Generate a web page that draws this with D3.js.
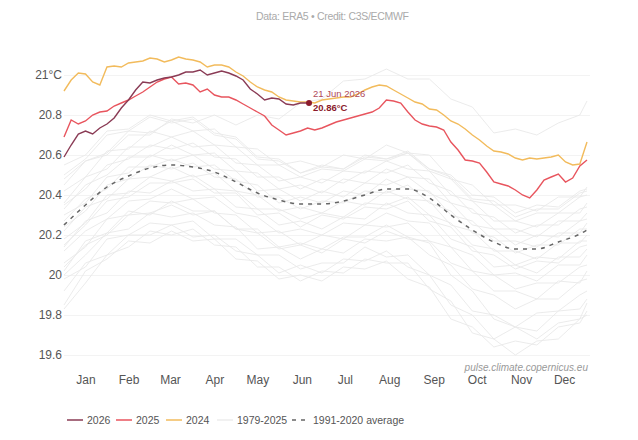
<!doctype html>
<html>
<head>
<meta charset="utf-8">
<script src="https://d3js.org/d3.v7.min.js"></script>
<style>
  body { margin: 0; background: #fff; }
  text { font-family: "Liberation Sans", Arial, sans-serif; }
</style>
</head>
<body>
<div id="chart"></div>
<script>
// month labels sit mid-month (day of year)
var months = ["Jan","Feb","Mar","Apr","May","Jun","Jul","Aug","Sep","Oct","Nov","Dec"];
var monthMid = [15, 45, 74, 105, 135, 166, 196, 227, 258, 288, 319, 349];
var yTicks = [19.6, 19.8, 20, 20.2, 20.4, 20.6, 20.8, 21];

var sampleDays = d3.range(0, 366, 5);
var val2024 = [20.92,20.975,21.01,21.005,20.965,20.95,21.04,21.045,21.04,21.06,21.065,21.07,21.085,21.08,21.065,21.075,21.09,21.08,21.075,21.065,
  21.04,21.05,21.05,21.04,21.015,20.995,20.965,20.94,20.925,20.915,20.89,20.875,20.87,20.865,20.865,20.86,20.875,20.88,20.885,20.89,
  20.89,20.905,20.925,20.94,20.95,20.945,20.925,20.905,20.885,20.865,20.855,20.83,20.825,20.80,20.77,20.755,20.73,20.70,20.675,20.645,
  20.62,20.615,20.605,20.585,20.575,20.585,20.58,20.585,20.59,20.60,20.565,20.55,20.555,20.665];
var val2025 = [20.69,20.775,20.755,20.77,20.80,20.815,20.82,20.845,20.86,20.875,20.895,20.915,20.94,20.965,20.98,20.99,20.955,20.96,20.95,20.915,
  20.93,20.90,20.89,20.89,20.875,20.855,20.835,20.815,20.795,20.75,20.725,20.70,20.71,20.72,20.735,20.725,20.735,20.75,20.765,20.775,
  20.785,20.795,20.805,20.815,20.835,20.875,20.87,20.86,20.815,20.775,20.755,20.745,20.74,20.725,20.665,20.625,20.575,20.57,20.56,20.515,
  20.465,20.455,20.445,20.425,20.40,20.385,20.425,20.475,20.49,20.505,20.465,20.485,20.545,20.575];
var val2026 = [20.59,20.65,20.705,20.72,20.705,20.735,20.755,20.785,20.835,20.875,20.925,20.965,20.96,20.975,20.985,20.99,21.00,21.015,21.015,21.025,
  21.00,21.01,21.02,21.01,20.995,20.975,20.93,20.905,20.875,20.885,20.88,20.855,20.85,20.86,20.86];
var lastDay = 171, lastValue = 20.86, lastLabel = "21 Jun 2026";

// 1991-2020 average and 1979-2025 years, every 15 days
var greyDays = d3.range(0, 361, 15).concat([365]);
var avg = [20.25,20.35,20.44,20.495,20.535,20.55,20.54,20.515,20.465,20.41,20.375,20.355,20.355,20.37,20.40,20.43,20.43,20.385,20.30,20.225,20.165,20.13,20.13,20.165,20.205,20.225];
var greyYears = [
  [19.85,20.02,20.08,20.17,20.16,20.22,20.17,20.18,20.08,20.07,19.98,20.00,19.97,20.04,20.03,20.07,19.98,19.94,19.78,19.74,19.64,19.67,19.65,19.74,19.76,19.82],
  [19.83,19.96,20.10,20.14,20.22,20.20,20.23,20.15,20.14,20.04,20.04,19.97,20.02,20.01,20.08,20.06,20.06,19.93,19.87,19.71,19.68,19.60,19.67,19.68,19.78,19.80],
  [19.92,20.06,20.10,20.20,20.20,20.25,20.19,20.20,20.12,20.10,20.01,20.05,20.01,20.08,20.07,20.12,20.04,20.00,19.85,19.80,19.68,19.74,19.72,19.82,19.83,19.88],
  [19.98,20.04,20.18,20.20,20.26,20.25,20.27,20.18,20.18,20.10,20.10,20.03,20.06,20.06,20.14,20.09,20.10,20.00,19.95,19.82,19.80,19.74,19.81,19.82,19.90,19.92],
  [20.02,20.17,20.21,20.32,20.30,20.37,20.32,20.32,20.23,20.23,20.14,20.16,20.13,20.19,20.19,20.25,20.19,20.16,20.00,19.92,19.78,19.74,19.68,19.76,19.78,19.86],
  [20.00,20.10,20.21,20.23,20.31,20.29,20.31,20.25,20.24,20.13,20.14,20.08,20.13,20.11,20.18,20.17,20.19,20.10,20.05,19.93,19.90,19.83,19.88,19.88,19.97,19.98],
  [20.04,20.15,20.20,20.30,20.31,20.35,20.30,20.32,20.23,20.21,20.13,20.15,20.11,20.18,20.16,20.22,20.18,20.17,20.06,20.02,19.92,19.92,19.88,19.97,19.96,20.02],
  [20.06,20.14,20.28,20.30,20.37,20.36,20.38,20.31,20.30,20.21,20.22,20.15,20.20,20.18,20.25,20.24,20.26,20.17,20.14,20.02,20.00,19.93,19.96,19.96,20.04,20.05],
  [20.12,20.22,20.28,20.37,20.38,20.43,20.38,20.39,20.31,20.29,20.21,20.23,20.20,20.26,20.25,20.31,20.27,20.26,20.14,20.10,20.00,20.01,19.97,20.05,20.05,20.10],
  [20.15,20.25,20.37,20.39,20.46,20.46,20.48,20.41,20.41,20.30,20.31,20.24,20.30,20.28,20.34,20.33,20.37,20.27,20.24,20.12,20.10,20.03,20.07,20.06,20.14,20.15],
  [20.14,20.27,20.31,20.42,20.41,20.47,20.42,20.43,20.34,20.33,20.25,20.27,20.23,20.29,20.28,20.36,20.31,20.30,20.18,20.14,20.04,20.05,20.01,20.09,20.09,20.13],
  [20.18,20.26,20.40,20.41,20.49,20.47,20.50,20.43,20.42,20.33,20.33,20.28,20.31,20.29,20.36,20.35,20.39,20.30,20.26,20.15,20.13,20.05,20.09,20.08,20.17,20.17],
  [20.22,20.34,20.38,20.48,20.49,20.54,20.49,20.51,20.42,20.40,20.32,20.34,20.31,20.37,20.35,20.42,20.38,20.37,20.25,20.22,20.12,20.12,20.08,20.16,20.16,20.20],
  [20.24,20.32,20.45,20.48,20.55,20.53,20.56,20.49,20.48,20.39,20.39,20.33,20.37,20.36,20.42,20.41,20.45,20.36,20.32,20.21,20.19,20.11,20.15,20.15,20.23,20.23],
  [20.27,20.38,20.43,20.54,20.54,20.58,20.54,20.55,20.47,20.45,20.36,20.39,20.36,20.42,20.40,20.48,20.43,20.42,20.30,20.27,20.17,20.17,20.14,20.21,20.21,20.26],
  [20.30,20.36,20.49,20.51,20.60,20.57,20.60,20.53,20.52,20.42,20.43,20.37,20.42,20.39,20.46,20.45,20.49,20.41,20.36,20.25,20.23,20.15,20.20,20.19,20.27,20.28],
  [20.33,20.45,20.50,20.59,20.59,20.65,20.60,20.61,20.52,20.51,20.43,20.45,20.41,20.48,20.46,20.53,20.49,20.48,20.36,20.33,20.23,20.23,20.19,20.27,20.27,20.31],
  [20.35,20.43,20.55,20.58,20.65,20.63,20.66,20.59,20.58,20.49,20.49,20.43,20.48,20.46,20.52,20.51,20.55,20.46,20.42,20.31,20.29,20.21,20.25,20.25,20.33,20.34],
  [20.36,20.49,20.53,20.64,20.64,20.69,20.64,20.65,20.56,20.55,20.47,20.49,20.46,20.52,20.51,20.57,20.53,20.52,20.40,20.37,20.27,20.27,20.24,20.31,20.31,20.36],
  [20.42,20.49,20.62,20.63,20.72,20.69,20.72,20.65,20.64,20.55,20.55,20.49,20.53,20.52,20.58,20.57,20.61,20.52,20.48,20.37,20.35,20.27,20.31,20.31,20.39,20.40],
  [20.45,20.57,20.61,20.72,20.71,20.77,20.72,20.73,20.64,20.63,20.55,20.57,20.54,20.60,20.58,20.65,20.61,20.60,20.48,20.45,20.35,20.35,20.32,20.39,20.39,20.44],
  [20.50,20.58,20.70,20.72,20.79,20.76,20.78,20.70,20.68,20.58,20.57,20.51,20.55,20.53,20.60,20.58,20.62,20.53,20.50,20.40,20.39,20.31,20.35,20.34,20.42,20.43],
  [20.55,20.60,20.72,20.73,20.80,20.77,20.79,20.71,20.69,20.59,20.58,20.51,20.54,20.53,20.59,20.58,20.61,20.53,20.49,20.38,20.37,20.29,20.33,20.33,20.41,20.42],
  [20.48,20.57,20.60,20.70,20.70,20.78,20.76,20.80,20.75,20.80,20.78,20.86,20.88,20.97,20.98,21.03,20.98,20.98,20.88,20.84,20.71,20.73,20.70,20.76,20.80,20.87]
];

var colors = {y2026: "#8a3b55", y2025: "#e8555e", y2024: "#f2bb5c", grey: "#e9e9e9", avg: "#666"};

var width = 638, height = 440;
var svg = d3.select("#chart").append("svg")
    .attr("width", width)
    .attr("height", height);

var x = d3.scaleLinear().domain([0, 365]).range([64, 587]);
var y = d3.scaleLinear().domain([19.6, 21]).range([355, 75]);

// title
svg.append("text")
    .attr("x", 256).attr("y", 20)
    .attr("font-size", 10.5)
    .attr("fill", "#aaa")
    .attr("textLength", 153)
    .text("Data: ERA5 \u2022 Credit: C3S/ECMWF");

// gridlines + y labels
var yAxis = svg.append("g")
    .attr("transform", "translate(64,0)")
    .call(d3.axisLeft(y).tickValues(yTicks).tickSize(-526)
        .tickFormat(function(d) { return d === 21 ? "21°C" : d3.format("")(+d.toFixed(1)); }));
yAxis.select(".domain").remove();
yAxis.selectAll(".tick line").attr("stroke", "#f3f3f3");
yAxis.selectAll(".tick text").attr("x", -2).attr("font-size", 12).attr("fill", "#555")
    .style("font-family", "Liberation Sans, Arial, sans-serif");

// month labels
var xAxis = svg.append("g")
    .attr("transform", "translate(0,372)")
    .call(d3.axisBottom(x).tickValues(monthMid).tickSize(0)
        .tickFormat(function(d, i) { return months[i]; }));
xAxis.select(".domain").remove();
xAxis.selectAll(".tick text").attr("font-size", 12).attr("fill", "#555")
    .style("font-family", "Liberation Sans, Arial, sans-serif");

var line = d3.line()
    .x(function(d) { return x(d[0]); })
    .y(function(d) { return y(d[1]); });

// 1979-2025 grey years
greyYears.forEach(function(vals) {
    svg.append("path")
        .datum(greyDays.map(function(d, i) { return [d, vals[i]]; }))
        .attr("fill", "none")
        .attr("stroke", colors.grey)
        .attr("stroke-width", 0.9)
        .attr("d", line);
});

// average
svg.append("path")
    .datum(greyDays.map(function(d, i) { return [d, avg[i]]; }))
    .attr("fill", "none")
    .attr("stroke", colors.avg)
    .attr("stroke-width", 1.5)
    .attr("stroke-dasharray", "4,5")
    .attr("d", d3.line().curve(d3.curveMonotoneX)
        .x(function(d) { return x(d[0]); })
        .y(function(d) { return y(d[1]); }));

function drawYear(vals, color, extra) {
    var pts = vals.map(function(v, i) { return [sampleDays[i], v]; });
    if (extra) pts.push(extra);
    svg.append("path")
        .datum(pts)
        .attr("fill", "none")
        .attr("stroke", color)
        .attr("stroke-width", 1.4)
        .attr("d", line);
}
drawYear(val2024, colors.y2024);
drawYear(val2025, colors.y2025);
drawYear(val2026, colors.y2026, [lastDay, lastValue]);

// latest point annotation
svg.append("circle")
    .attr("cx", x(lastDay)).attr("cy", y(lastValue))
    .attr("r", 3).attr("fill", "#8b1a2b");
svg.append("text")
    .attr("x", x(lastDay) + 4).attr("y", y(lastValue) - 6)
    .attr("font-size", 9.5).attr("fill", "#b04a5a")
    .text(lastLabel);
svg.append("text")
    .attr("x", x(lastDay) + 4).attr("y", y(lastValue) + 8)
    .attr("font-size", 9.5).attr("font-weight", "bold").attr("fill", "#8b1a2b")
    .text(lastValue.toFixed(2) + "°C");

// source
svg.append("text")
    .attr("x", 588).attr("y", 371)
    .attr("text-anchor", "end")
    .attr("font-size", 10).attr("font-style", "italic").attr("fill", "#999")
    .text("pulse.climate.copernicus.eu");

// legend
var legendItems = [
    {label: "2026", color: colors.y2026, x: 67},
    {label: "2025", color: colors.y2025, x: 116},
    {label: "2024", color: colors.y2024, x: 166},
    {label: "1979-2025", color: "#ececec", x: 217},
    {label: "1991-2020 average", color: colors.avg, x: 292, dash: "4,5"}
];
var legend = svg.append("g").attr("transform", "translate(0,420)");
legendItems.forEach(function(d) {
    legend.append("line")
        .attr("x1", d.x).attr("x2", d.x + 16)
        .attr("stroke", d.color).attr("stroke-width", 1.5)
        .attr("stroke-dasharray", d.dash || null);
    legend.append("text")
        .attr("x", d.x + (d.dash ? 21 : 20)).attr("y", 4)
        .attr("font-size", 10.5).attr("fill", "#555")
        .text(d.label);
});
</script>
</body>
</html>
